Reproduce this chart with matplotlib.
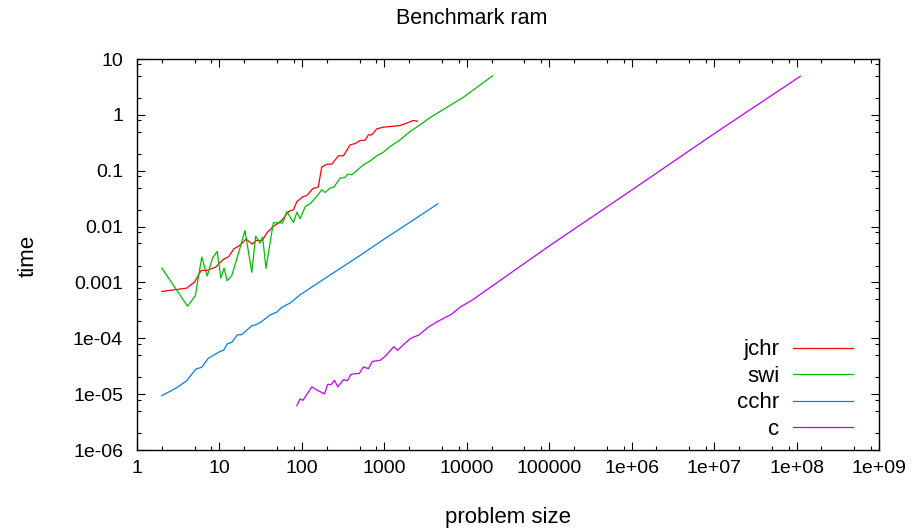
import matplotlib
matplotlib.use("Agg")
from matplotlib import pyplot as plt
from matplotlib.ticker import FixedLocator, NullFormatter

# values (problem size vs time, log-log)
jchr_x = [2, 4, 5, 6, 7, 9, 11, 13, 15, 18, 21, 25, 28, 33, 38, 45, 57, 69, 79, 87,
          104, 115, 136, 158, 174, 200, 231, 277, 319, 385, 442, 508, 585, 641, 705,
          811, 975, 1175, 1552, 1875, 2218, 2515]
jchr_y = [6.9e-4, 7.9e-4, 1.02e-3, 1.64e-3, 1.64e-3, 1.88e-3, 2.55e-3, 2.92e-3, 4.0e-3,
          4.7e-3, 5.97e-3, 4.86e-3, 5.64e-3, 5.64e-3, 7.84e-3, 1.0e-2, 1.29e-2, 1.86e-2,
          2.0e-2, 2.81e-2, 3.45e-2, 3.6e-2, 4.8e-2, 5.09e-2, 0.116, 0.131, 0.131, 0.185,
          0.185, 0.29, 0.307, 0.347, 0.352, 0.438, 0.438, 0.562, 0.603, 0.618, 0.644,
          0.711, 0.791, 0.771]

swi_x = [2, 4.1, 5.1, 6.1, 7.1, 8.3, 9.4, 10.4, 11.4, 12.4, 14.1, 16.4, 20.4, 24.7, 27.5,
         31, 33.4, 36.7, 45, 58.5, 65.7, 79, 87, 95, 110, 126, 151, 174, 191, 220, 245,
         290, 333, 361, 403, 465, 560, 674, 811, 975, 1175, 1552, 2052, 2715, 3590,
         9120, 20500]
swi_y = [1.81e-3, 3.75e-4, 5.78e-4, 2.85e-3, 1.30e-3, 2.79e-3, 3.59e-3, 1.2e-3, 1.81e-3,
         1.07e-3, 1.32e-3, 2.77e-3, 8.5e-3, 1.52e-3, 6.76e-3, 5.07e-3, 6.49e-3, 1.78e-3,
         1.17e-2, 1.16e-2, 1.86e-2, 1.18e-2, 1.82e-2, 1.38e-2, 2.29e-2, 2.56e-2, 3.46e-2,
         4.55e-2, 4.07e-2, 4.89e-2, 5.09e-2, 7.38e-2, 7.55e-2, 8.69e-2, 8.45e-2, 0.101,
         0.128, 0.150, 0.185, 0.215, 0.271, 0.357, 0.503, 0.662, 0.895, 2.07, 4.99]

cchr_x = [2, 3, 4, 5.2, 6.1, 7.3, 10.2, 11.2, 12.5, 14.1, 16.5, 18.6, 24.7, 27.8, 32.6,
          41, 49.7, 57, 72, 95, 200, 500, 1000, 2000, 4460]
cchr_y = [9.4e-6, 1.29e-5, 1.74e-5, 2.83e-5, 3.02e-5, 4.37e-5, 5.83e-5, 6.08e-5, 8.0e-5,
          8.45e-5, 1.15e-4, 1.16e-4, 1.68e-4, 1.75e-4, 2.0e-4, 2.61e-4, 2.95e-4, 3.57e-4,
          4.28e-4, 6.0e-4, 1.24e-3, 3.0e-3, 6.0e-3, 1.17e-2, 2.56e-2]

c_x = [87, 95, 103, 132, 154, 188, 206, 226, 248, 273, 319, 357, 392, 442, 495, 558,
       641, 717, 889, 1023, 1304, 1442, 1706, 2057, 2365, 2594, 3430, 4540, 6600, 8320,
       11500, 1e5, 1e6, 1e7, 1.11e8]
c_y = [6.22e-6, 8.2e-6, 7.74e-6, 1.35e-5, 1.17e-5, 1.01e-5, 1.5e-5, 1.48e-5, 1.77e-5,
       1.35e-5, 1.82e-5, 1.74e-5, 2.24e-5, 2.33e-5, 2.33e-5, 3.07e-5, 2.86e-5, 3.86e-5,
       4.03e-5, 4.75e-5, 7.08e-5, 6.08e-5, 7.69e-5, 9.84e-5, 1.08e-4, 1.13e-4, 1.59e-4,
       2.04e-4, 2.72e-4, 3.63e-4, 4.77e-4, 4.5e-3, 4.5e-2, 0.46, 4.9]

x_ticks = [1, 10, 100, 1000, 1e4, 1e5, 1e6, 1e7, 1e8, 1e9]
x_labels = ["1", "10", "100", "1000", "10000", "100000", "1e+06", "1e+07", "1e+08", "1e+09"]
y_ticks = [1e-6, 1e-5, 1e-4, 1e-3, 1e-2, 1e-1, 1, 10]
y_labels = ["1e-06", "1e-05", "1e-04", "0.001", "0.01", "0.1", "1", "10"]

plt.rcParams["font.family"] = ["Liberation Sans", "DejaVu Sans"]
plt.rcParams["font.size"] = 14

W, H = 916, 529
fig = plt.figure(figsize=(W / 100, H / 100), dpi=100)
ax = fig.add_axes([137 / W, (H - 450) / H, 742 / W, 391 / H])

ax.plot(jchr_x, jchr_y, color="#ff0000", lw=0.9, label="jchr")
ax.plot(swi_x, swi_y, color="#00c000", lw=0.9, label="swi")
ax.plot(cchr_x, cchr_y, color="#0080ff", lw=0.9, label="cchr")
ax.plot(c_x, c_y, color="#c000ff", lw=0.9, label="c")

ax.set_xscale("log")
ax.set_yscale("log")
ax.set_xlim(1, 1e9)
ax.set_ylim(1e-6, 10)

ax.xaxis.set_major_locator(FixedLocator(x_ticks))
ax.set_xticklabels(x_labels)
ax.yaxis.set_major_locator(FixedLocator(y_ticks))
ax.set_yticklabels(y_labels)
x_minor = [d * m for d in x_ticks[:-1] for m in (2, 5, 8)]
y_minor = [d * m for d in y_ticks[:-1] for m in (2, 5, 8)]
ax.xaxis.set_minor_locator(FixedLocator(x_minor))
ax.yaxis.set_minor_locator(FixedLocator(y_minor))
ax.xaxis.set_minor_formatter(NullFormatter())
ax.yaxis.set_minor_formatter(NullFormatter())

ax.tick_params(which="both", direction="in", top=True, right=True, width=0.8,
               color="black", labelsize=14)
ax.tick_params(which="major", length=6)
ax.tick_params(which="minor", length=3)
ax.tick_params(axis="x", pad=7)
ax.tick_params(axis="y", pad=10)
for s in ax.spines.values():
    s.set_linewidth(1.0)

ax.set_xlabel("problem size", fontsize=16)
ax.xaxis.set_label_coords(508 / W, (H - 518) / H, transform=fig.transFigure)
ax.xaxis.label.set_va("center")
ax.set_ylabel("time", fontsize=16)
ax.yaxis.set_label_coords(28 / W, (H - 256) / H, transform=fig.transFigure)
ax.yaxis.label.set_va("center")

fig.text(472 / W, 1 - 18 / H, "Benchmark ram", ha="center", va="center", fontsize=15.5)

ax.legend(loc="lower right", bbox_to_anchor=(853 / W, (H - 440) / H),
          bbox_transform=fig.transFigure, frameon=False, markerfirst=False,
          handlelength=2.7, handletextpad=0.6, labelspacing=0.25, borderpad=0,
          borderaxespad=0, fontsize=16)

fig.savefig("out.png", dpi=100)
